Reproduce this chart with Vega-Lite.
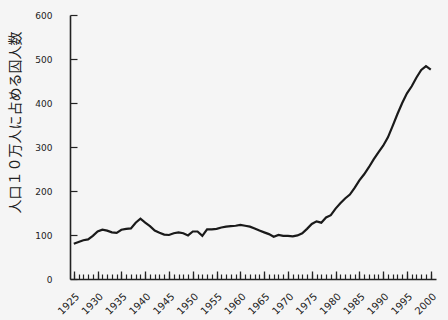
{
  "$schema": "https://vega.github.io/schema/vega-lite/v6.json",
  "width": 366,
  "height": 264,
  "autosize": "none",
  "padding": {"left": 70, "top": 15, "right": 12, "bottom": 41},
  "background": "#f5f5f5",
  "config": {"view": {"stroke": null}},
  "data": {"values": [
    {"year": 1925, "v": 80}, {"year": 1926, "v": 84}, {"year": 1927, "v": 88}, {"year": 1928, "v": 90},
    {"year": 1929, "v": 98}, {"year": 1930, "v": 108}, {"year": 1931, "v": 112}, {"year": 1932, "v": 110},
    {"year": 1933, "v": 106}, {"year": 1934, "v": 105}, {"year": 1935, "v": 112}, {"year": 1936, "v": 114},
    {"year": 1937, "v": 115}, {"year": 1938, "v": 128}, {"year": 1939, "v": 137}, {"year": 1940, "v": 128},
    {"year": 1941, "v": 120}, {"year": 1942, "v": 110}, {"year": 1943, "v": 105}, {"year": 1944, "v": 101},
    {"year": 1945, "v": 100}, {"year": 1946, "v": 104}, {"year": 1947, "v": 106}, {"year": 1948, "v": 104},
    {"year": 1949, "v": 99}, {"year": 1950, "v": 108}, {"year": 1951, "v": 108}, {"year": 1952, "v": 98},
    {"year": 1953, "v": 113}, {"year": 1954, "v": 113}, {"year": 1955, "v": 114}, {"year": 1956, "v": 117},
    {"year": 1957, "v": 119}, {"year": 1958, "v": 120}, {"year": 1959, "v": 121}, {"year": 1960, "v": 123},
    {"year": 1961, "v": 121}, {"year": 1962, "v": 119}, {"year": 1963, "v": 115}, {"year": 1964, "v": 110},
    {"year": 1965, "v": 106}, {"year": 1966, "v": 102}, {"year": 1967, "v": 96}, {"year": 1968, "v": 100},
    {"year": 1969, "v": 98}, {"year": 1970, "v": 98}, {"year": 1971, "v": 97}, {"year": 1972, "v": 99},
    {"year": 1973, "v": 104}, {"year": 1974, "v": 114}, {"year": 1975, "v": 125}, {"year": 1976, "v": 131},
    {"year": 1977, "v": 128}, {"year": 1978, "v": 140}, {"year": 1979, "v": 145}, {"year": 1980, "v": 160},
    {"year": 1981, "v": 172}, {"year": 1982, "v": 183}, {"year": 1983, "v": 192}, {"year": 1984, "v": 207},
    {"year": 1985, "v": 224}, {"year": 1986, "v": 238}, {"year": 1987, "v": 254}, {"year": 1988, "v": 272},
    {"year": 1989, "v": 288}, {"year": 1990, "v": 303}, {"year": 1991, "v": 322}, {"year": 1992, "v": 348},
    {"year": 1993, "v": 375}, {"year": 1994, "v": 400}, {"year": 1995, "v": 422}, {"year": 1996, "v": 438},
    {"year": 1997, "v": 458}, {"year": 1998, "v": 475}, {"year": 1999, "v": 484}, {"year": 2000, "v": 476}
  ]},
  "resolve": {"axis": {"x": "independent"}},
  "layer": [
    {
      "mark": {"type": "line", "opacity": 0},
      "encoding": {
        "x": {
          "field": "year", "type": "quantitative",
          "scale": {"domain": [1924.2, 2001.1], "nice": false, "zero": false},
          "axis": {
            "orient": "bottom",
            "title": null,
            "values": [1925,1926,1927,1928,1929,1930,1931,1932,1933,1934,1935,1936,1937,1938,1939,1940,1941,1942,1943,1944,1945,1946,1947,1948,1949,1950,1951,1952,1953,1954,1955,1956,1957,1958,1959,1960,1961,1962,1963,1964,1965,1966,1967,1968,1969,1970,1971,1972,1973,1974,1975,1976,1977,1978,1979,1980,1981,1982,1983,1984,1985,1986,1987,1988,1989,1990,1991,1992,1993,1994,1995,1996,1997,1998,1999,2000],
            "labels": false,
            "domain": false,
            "tickSize": -5,
            "tickColor": "#222",
            "tickWidth": 1.2,
            "grid": false
          }
        },
        "y": {"field": "v", "type": "quantitative", "scale": {"domain": [0, 600], "nice": false}}
      }
    },
    {
      "mark": {"type": "line", "color": "#1a1a1a", "strokeWidth": 2.2},
      "encoding": {
        "x": {
          "field": "year", "type": "quantitative",
          "axis": {
            "orient": "bottom",
            "title": null,
            "values": [1925,1930,1935,1940,1945,1950,1955,1960,1965,1970,1975,1980,1985,1990,1995,2000],
            "format": "d",
            "labelAngle": -45,
            "labelAlign": "right",
            "labelBaseline": "top",
            "labelPadding": 20,
            "labelFont": "DejaVu Sans",
            "labelFontSize": 10,
            "labelColor": "#222",
            "labelOverlap": false,
            "labelFlush": false,
            "tickSize": -8,
            "tickColor": "#222",
            "tickWidth": 1.3,
            "domainColor": "#222",
            "domainWidth": 1.6,
            "grid": false
          }
        },
        "y": {
          "field": "v", "type": "quantitative",
          "axis": {
            "title": "人口１０万人に占める囚人数",
            "titleFont": "Noto Sans CJK JP",
            "titleFontSize": 14,
            "titleFontWeight": "normal",
            "titleColor": "#222",
            "titleX": -55,
            "titleY": 107,
            "titleAlign": "center",
            "titleBaseline": "middle",
            "titleAngle": 270,
            "values": [0, 100, 200, 300, 400, 500, 600],
            "labelFont": "DejaVu Sans",
            "labelFontSize": 9,
            "labelColor": "#222",
            "labelPadding": 25,
            "tickSize": -7,
            "tickColor": "#222",
            "tickWidth": 1.2,
            "domainColor": "#222",
            "domainWidth": 1.6,
            "grid": false
          }
        }
      }
    }
  ]
}
